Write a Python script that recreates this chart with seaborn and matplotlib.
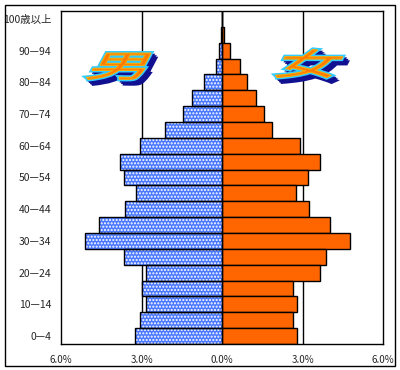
import matplotlib
matplotlib.use('Agg')
import matplotlib.pyplot as plt
from matplotlib.textpath import TextPath
from matplotlib.patches import PathPatch, Rectangle
from matplotlib.font_manager import FontProperties
from matplotlib.transforms import Affine2D, IdentityTransform
import seaborn as sns
import pandas as pd

# population share by age group (%), top row first
age_groups = ['100歳以上', '95—99', '90—94', '85—89', '80—84', '75—79', '70—74',
              '65—69', '60—64', '55—59', '50—54', '45—49', '40—44', '35—39',
              '30—34', '25—29', '20—24', '15—19', '10—14', '5—9', '0—4']
male = [0.0, 0.05, 0.11, 0.22, 0.67, 1.12, 1.46, 2.14, 3.07, 3.79, 3.64,
        3.19, 3.60, 4.57, 5.10, 3.67, 2.82, 3.00, 2.85, 3.07, 3.26]
female = [0.0, 0.08, 0.30, 0.68, 0.95, 1.28, 1.58, 1.88, 2.89, 3.67, 3.19,
          2.77, 3.26, 4.01, 4.78, 3.86, 3.64, 2.63, 2.78, 2.63, 2.78]
x_ticks = [-6, -3, 0, 3, 6]
x_labels = ['6.0%', '3.0%', '0.0%', '3.0%', '6.0%']

sns.set_style('white')
plt.rcParams['font.family'] = ['Noto Sans CJK JP', 'DejaVu Sans']
plt.rcParams['hatch.linewidth'] = 1.0

df = pd.DataFrame({'age': age_groups,
                   'male': [-v for v in male],
                   'female': female})

fig = plt.figure(figsize=(4.0, 3.7), dpi=100)
ax = fig.add_axes([61 / 400, 26 / 370, 322 / 400, 333 / 370])

# gridlines behind the bars
for xv in [-3, 0, 3]:
    ax.axvline(xv, color='black', lw=1, zorder=0)

sns.barplot(data=df, x='male', y='age', orient='h', color='#4a78ff',
            saturation=1, width=1, edgecolor='white', linewidth=0, ax=ax)
n_male = len(ax.patches)
sns.barplot(data=df, x='female', y='age', orient='h', color='#ff6600',
            saturation=1, width=1, edgecolor='black', linewidth=1, ax=ax)

# white dot pattern on male bars, black outline on top
for p in list(ax.patches[:n_male]):
    p.set_hatch('.....')
    p.set_edgecolor('white')
    ax.add_patch(Rectangle(p.get_xy(), p.get_width(), p.get_height(),
                           fill=False, edgecolor='black', lw=1, zorder=p.get_zorder()))

ax.set_xlim(-6, 6)
ax.set_ylim(len(age_groups) - 0.5, -0.5)
ax.set_xticks(x_ticks)
ax.set_xticklabels(x_labels, fontsize=7)
ax.set_yticks(range(len(age_groups)))
ax.set_yticklabels([a if i % 2 == 0 else '' for i, a in enumerate(age_groups)],
                   fontsize=7.5)
ax.tick_params(axis='both', length=0)
ax.tick_params(axis='y', pad=7)
ax.tick_params(axis='x', pad=8)
ax.set_xlabel('')
ax.set_ylabel('')
for s in ax.spines.values():
    s.set_color('black')
    s.set_linewidth(1)

# outer frame
fig.patches.append(Rectangle((5 / 400, 4 / 370), 390 / 400, 361 / 370,
                             transform=fig.transFigure, fill=False,
                             edgecolor='black', lw=1))

# decorative 男 / 女 labels
fp = FontProperties(family='Noto Sans CJK JP', weight='normal')


def fancy_label(char, x0, y0):
    tp = TextPath((0, 0), char, size=32, prop=fp)
    for k in (5, 3.5, 2):
        tr = Affine2D().scale(2.0, 0.95).skew_deg(28, 0).translate(x0 + k, y0 - k)
        fig.patches.append(PathPatch(tr.transform_path(tp), transform=IdentityTransform(),
                                     facecolor='#101090', edgecolor='#101090', lw=2))
    tr = Affine2D().scale(2.0, 0.95).skew_deg(28, 0).translate(x0, y0)
    fig.patches.append(PathPatch(tr.transform_path(tp), transform=IdentityTransform(),
                                 facecolor='#ff7a00', edgecolor='#33ccff', lw=3))
    fig.patches.append(PathPatch(tr.transform_path(tp), transform=IdentityTransform(),
                                 facecolor='#ff7a00', edgecolor='#ffa800', lw=0.8))


fancy_label('男', 84, 370 - 77)
fancy_label('女', 272, 370 - 75)

fig.savefig('out.png', dpi=100)
